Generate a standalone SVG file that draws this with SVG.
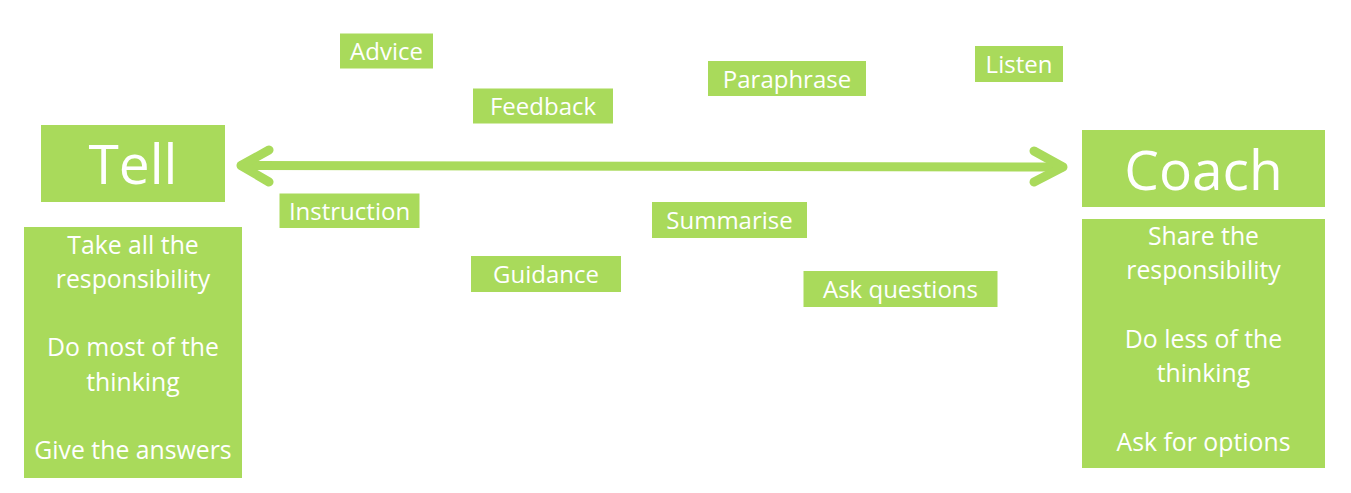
<svg xmlns="http://www.w3.org/2000/svg" width="1351" height="493" viewBox="0 0 1351 493">
<style>
.box{fill:#A9DA5B}
.t{font-family:"Open Sans","Noto Sans","Liberation Sans",sans-serif;fill:#FFFFFF;text-anchor:middle}
.lbl{font-size:24px}
.big{font-size:55px}
.lst{font-size:24.8px}
.arw{fill:none;stroke:#A9DA5B;stroke-width:9;stroke-linecap:round;stroke-linejoin:round}
</style>
<rect width="1351" height="493" fill="#FFFFFF"/>
<g id="connectors">
<line class="arw" x1="242" y1="165.5" x2="1062" y2="167"/>
<polyline class="arw" points="269,150 241,165.5 269,182"/>
<polyline class="arw" points="1034,151 1063,167 1034,182"/>
</g>
<g id="tell">
<rect class="box" x="41" y="125" width="184" height="77"/>
<text class="t big" x="133" y="184">Tell</text>
</g>
<g id="tell-list">
<rect class="box" x="24" y="227" width="218" height="251"/>
<text class="t lst" x="133" y="253.5">Take all the</text>
<text class="t lst" x="133" y="287.8">responsibility</text>
<text class="t lst" x="133" y="356.4">Do most of the</text>
<text class="t lst" x="133" y="390.7">thinking</text>
<text class="t lst" x="133" y="459.3">Give the answers</text>
</g>
<g id="coach">
<rect class="box" x="1082" y="130" width="243" height="77"/>
<text class="t big" x="1203.5" y="190">Coach</text>
</g>
<g id="coach-list">
<rect class="box" x="1082" y="219" width="243" height="249"/>
<text class="t lst" x="1203.5" y="245">Share the</text>
<text class="t lst" x="1203.5" y="279.3">responsibility</text>
<text class="t lst" x="1203.5" y="348">Do less of the</text>
<text class="t lst" x="1203.5" y="382.3">thinking</text>
<text class="t lst" x="1203.5" y="450.8">Ask for options</text>
</g>
<g id="advice">
<rect class="box" x="340" y="33.5" width="93" height="35"/>
<text class="t lbl" x="386.5" y="60">Advice</text>
</g>
<g id="feedback">
<rect class="box" x="473" y="88.5" width="140" height="35"/>
<text class="t lbl" x="543" y="115">Feedback</text>
</g>
<g id="paraphrase">
<rect class="box" x="708" y="61" width="158" height="35"/>
<text class="t lbl" x="787" y="87.5">Paraphrase</text>
</g>
<g id="listen">
<rect class="box" x="975" y="46" width="88" height="36"/>
<text class="t lbl" x="1019" y="72.7">Listen</text>
</g>
<g id="instruction">
<rect class="box" x="279.5" y="193.5" width="140" height="34.5"/>
<text class="t lbl" x="349.5" y="220">Instruction</text>
</g>
<g id="summarise">
<rect class="box" x="652" y="202" width="155" height="36"/>
<text class="t lbl" x="729.5" y="228.5">Summarise</text>
</g>
<g id="guidance">
<rect class="box" x="471" y="256" width="150" height="36"/>
<text class="t lbl" x="546" y="282.5">Guidance</text>
</g>
<g id="ask-questions">
<rect class="box" x="803.5" y="271" width="194" height="36"/>
<text class="t lbl" x="900.5" y="297.7">Ask questions</text>
</g>
</svg>
